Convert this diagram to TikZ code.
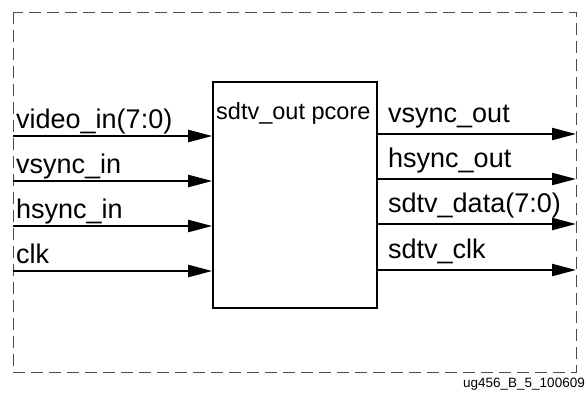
\documentclass[tikz,border=0pt]{standalone}
\usepackage{fontspec}
\setmainfont{Liberation Sans}
\usetikzlibrary{arrows.meta}
\begin{document}
\begin{tikzpicture}[x=1pt,y=-1pt,
  frame/.style={draw=black!70,line width=0.9pt,dash pattern=on 12pt off 6pt},
  corebox/.style={draw,line width=1.6pt,inner sep=0pt},
  sig/.style={line width=2.2pt,-{Triangle[length=24pt,width=12pt]}},
  lbl/.style={anchor=base west,inner sep=0pt,font=\fontsize{27}{31}\selectfont},
  corelbl/.style={anchor=base west,inner sep=0pt,font=\fontsize{23.5}{27}\selectfont},
  foot/.style={anchor=base east,inner sep=0pt,font=\fontsize{13.5}{16}\selectfont}]
\useasboundingbox (0,0) rectangle (586,392);
\draw[frame] (13,12) rectangle (576,372);
\node[corebox,minimum width=164pt,minimum height=226pt] (core) at (295,195) {};
\node[corelbl] (corel) at (216,119) {sdtv\_out pcore};
% inputs
\coordinate (i1) at (13,136);
\coordinate (i2) at (13,181);
\coordinate (i3) at (13,226);
\coordinate (i4) at (13,271);
\draw[sig] (i1) -- (i1 -| core.west);
\draw[sig] (i2) -- (i2 -| core.west);
\draw[sig] (i3) -- (i3 -| core.west);
\draw[sig] (i4) -- (i4 -| core.west);
\node[lbl] (l1) at (16,128) {video\_in(7:0)};
\node[lbl] (l2) at (16,173) {vsync\_in};
\node[lbl] (l3) at (16,218) {hsync\_in};
\node[lbl] (l4) at (16,263) {clk};
% outputs
\coordinate (o1) at (576,134);
\coordinate (o2) at (576,179);
\coordinate (o3) at (576,224);
\coordinate (o4) at (576,270);
\draw[sig] (o1 -| core.east) -- (o1);
\draw[sig] (o2 -| core.east) -- (o2);
\draw[sig] (o3 -| core.east) -- (o3);
\draw[sig] (o4 -| core.east) -- (o4);
\node[lbl] (r1) at (388,122) {vsync\_out};
\node[lbl] (r2) at (388,167) {hsync\_out};
\node[lbl] (r3) at (388,212) {sdtv\_data(7:0)};
\node[lbl] (r4) at (388,258) {sdtv\_clk};
\node[foot] (ft) at (585,387) {ug456\_B\_5\_100609};
\end{tikzpicture}
\end{document}
